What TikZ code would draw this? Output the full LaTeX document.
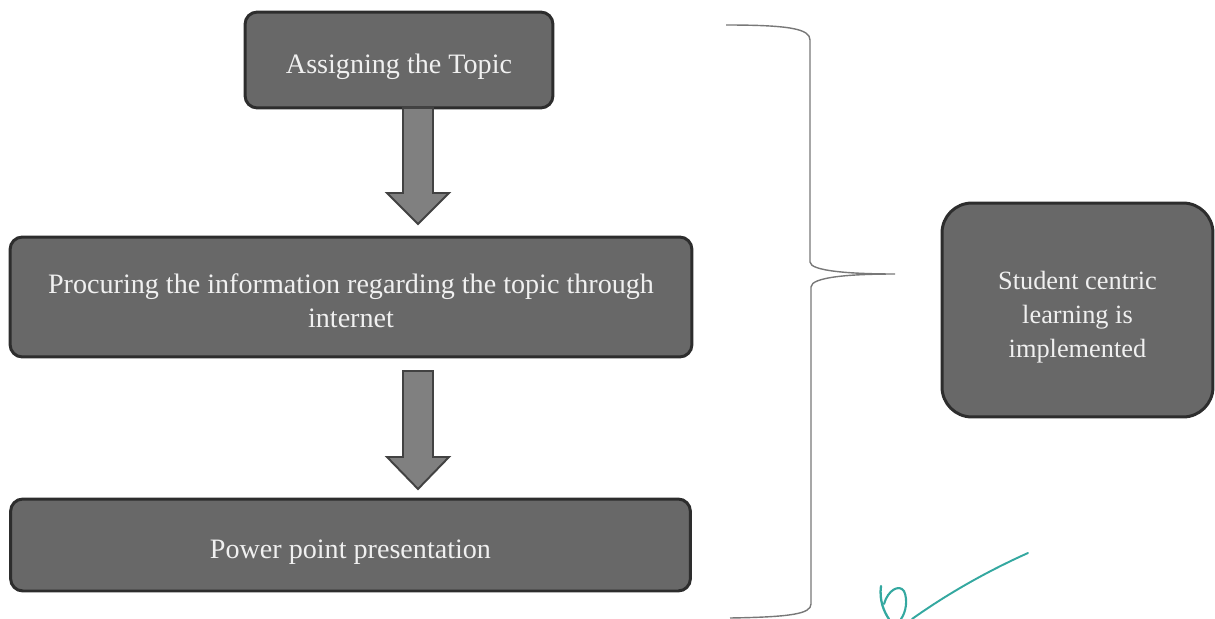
\documentclass[tikz,border=0pt]{standalone}
\usepackage{fontspec}
\setmainfont{Liberation Serif}
\usetikzlibrary{positioning}
\definecolor{boxgray}{RGB}{104,104,104}
\definecolor{boxedge}{RGB}{45,45,45}
\definecolor{arrowgray}{RGB}{128,128,128}
\definecolor{bracegray}{RGB}{120,120,120}
\definecolor{signteal}{RGB}{52,168,160}
% text sits a little below the middle of each box
\newcommand\lowtext[1]{\raisebox{-4pt}[\height][\depth]{\begin{tabular}{@{}c@{}}#1\end{tabular}}}
\tikzset{
  stagebox/.style={draw=boxedge, fill=boxgray, line width=1.7pt, rounded corners=7pt,
    text=white!94!black, align=center, inner sep=4pt,
    font=\fontsize{16}{19.3}\selectfont},
  resultbox/.style={stagebox, rounded corners=17pt, font=\fontsize{15}{19.3}\selectfont},
  blockarrow/.style={draw=boxedge!90, fill=arrowgray, line width=1.1pt, line join=miter},
}
\begin{document}
\begin{tikzpicture}[x=0.02cm, y=-0.02cm]
				\useasboundingbox (0,0) rectangle (1215,619);
				
				% stages
				\node[stagebox, minimum width=6.16cm, minimum height=1.92cm] (assign) at (399,60) {\lowtext{Assigning the Topic}};
				\node[stagebox, minimum width=13.64cm, minimum height=2.4cm] (procure) at (351,297)
				  {\lowtext{Procuring the information regarding the topic through\\internet}};
				\node[stagebox, minimum width=13.6cm, minimum height=1.84cm] (present) at (350.5,545) {\lowtext{Power point presentation}};
				
				% result
				\node[resultbox, minimum width=5.42cm, minimum height=4.28cm] (result) at (1077.5,310)
				  {\lowtext{Student centric\\learning is\\implemented}};
				
				% block arrows between the stages
				\coordinate (arrowA) at (418,108);
				\coordinate (tipA) at (418,224);
				\coordinate (arrowB) at (418,371);
				\coordinate (tipB) at (418,489);
				\draw[blockarrow] (arrowA) ++(-15,0) -- ++(0,85) -- ++(-16,0) -- (tipA) -- ++(31,-31) -- ++(-16,0) -- ++(0,-85) -- cycle;
				\draw[blockarrow] (arrowB) ++(-15,0) -- ++(0,86) -- ++(-16,0) -- (tipB) -- ++(31,-32) -- ++(-16,0) -- ++(0,-86) -- cycle;
				
				% brace pointing to the result
				\coordinate (bracetip) at (895,274);
				\draw[bracegray, line width=0.8pt] (726,25) .. controls (790,25) and (810,29) .. (810,40) -- (810,262)
				  .. controls (810,271) and (850,274) .. (bracetip)
				  .. controls (850,274) and (811,277) .. (811,287) -- (811,604)
				  .. controls (811,614) and (790,617) .. (730,618);
				
				% signature
				\draw[signteal, line width=1.3pt, line cap=round] (881,586) .. controls (879,600) and (884,612) .. (889,619);
				\draw[signteal, line width=1.2pt, line cap=round] (884,604) .. controls (888,590) and (899,584) .. (904,591)
				  .. controls (908,600) and (906,612) .. (901,619);
				\draw[signteal, line width=1.1pt, line cap=round] (912,619) .. controls (950,592) and (990,570) .. (1028,553);
			\end{tikzpicture}
\end{document}
